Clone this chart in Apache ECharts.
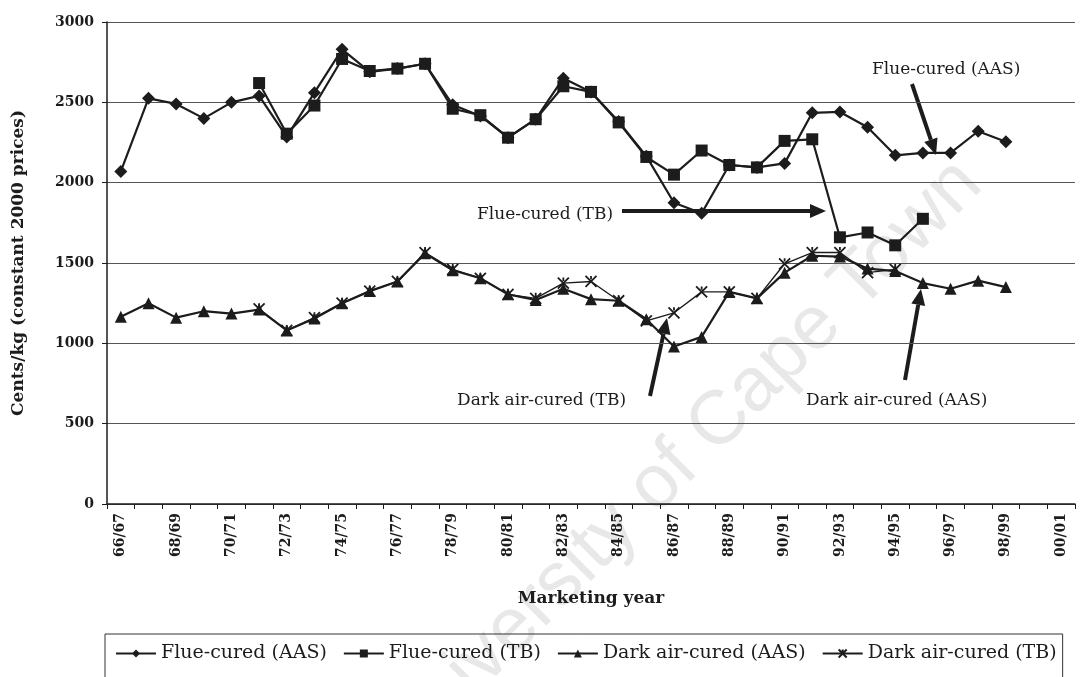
<!DOCTYPE html>
<html>
<head>
<meta charset="utf-8">
<title>Tobacco prices</title>
<script src="https://cdn.jsdelivr.net/npm/echarts@6.0.0/dist/echarts.min.js"></script>
<style>
  html, body { margin: 0; padding: 0; background: #fff; }
  #main { width: 1081px; height: 677px; }
</style>
</head>
<body>
<div id="main"></div>
<script>
// marketing years on the x axis
var years = ['66/67','67/68','68/69','69/70','70/71','71/72','72/73','73/74','74/75','75/76',
  '76/77','77/78','78/79','79/80','80/81','81/82','82/83','83/84','84/85','85/86',
  '86/87','87/88','88/89','89/90','90/91','91/92','92/93','93/94','94/95','95/96',
  '96/97','97/98','98/99','99/00','00/01'];

// cents/kg, constant 2000 prices
var flueAAS = [2070,2525,2490,2400,2500,2540,2285,2560,2830,2690,
  2710,2740,2485,2415,2280,2395,2650,2565,2380,2165,
  1875,1810,2110,2095,2120,2435,2440,2345,2170,2185,
  2185,2320,2255,null,null];
var flueTB = [null,null,null,null,null,2620,2305,2480,2770,2695,
  2710,2740,2460,2420,2280,2395,2600,2565,2375,2160,
  2050,2200,2110,2095,2260,2270,1660,1690,1610,1775,
  null,null,null,null,null];
var darkAAS = [1165,1250,1160,1200,1185,1210,1080,1155,1250,1325,
  1385,1560,1455,1405,1305,1270,1340,1275,1265,1150,
  980,1040,1320,1280,1440,1545,1540,1465,1450,1375,
  1340,1390,1350,null,null];
var darkTB = [null,null,null,null,null,1215,1080,1160,1250,1325,
  1385,1565,1460,1405,1305,1280,1375,1385,1265,1140,
  1190,1320,1320,1280,1495,1565,1565,1440,1460,null,
  null,null,null,null,null];

var seriesNames = ['Flue-cured (AAS)','Flue-cured (TB)','Dark air-cured (AAS)','Dark air-cured (TB)'];

var serif = '"DejaVu Serif", "Liberation Serif", serif';
var ink = '#1c1c1c';
var xMark = 'path://M0,0 L10,10 M10,0 L0,10 M5,0 L5,3';

// arrow drawn as a thick line with a filled head
function arrow(x1, y1, x2, y2, w) {
    var a = Math.atan2(y2 - y1, x2 - x1);
    var len = 16, half = 7;
    var bx = x2 - len * Math.cos(a), by = y2 - len * Math.sin(a);
    return {
        type: 'group', z: 50,
        children: [
            { type: 'line', shape: { x1: x1, y1: y1, x2: bx, y2: by },
              style: { stroke: ink, lineWidth: w } },
            { type: 'polygon', shape: { points: [
                [x2, y2],
                [bx + half * Math.sin(a), by - half * Math.cos(a)],
                [bx - half * Math.sin(a), by + half * Math.cos(a)]
              ] }, style: { fill: ink } }
        ]
    };
}

function note(text, x, y) {
    return { type: 'text', left: x, top: y, z: 50,
        style: { text: text, fill: ink, font: '17px ' + serif } };
}

function createChart() {
    var myChart = echarts.init(document.getElementById('main'));

    var option = {
        backgroundColor: '#fff',
        animation: false,
        grid: { left: 107, right: 6, top: 22, bottom: 173 },
        legend: {
            data: seriesNames,
            left: 105, top: 634,
            padding: [10, 6, 30, 10],
            itemGap: 16,
            itemWidth: 40, itemHeight: 10,
            borderColor: '#333', borderWidth: 1,
            textStyle: { fontFamily: serif, fontSize: 19, color: ink }
        },
        xAxis: {
            type: 'category',
            data: years,
            boundaryGap: true,
            name: 'Marketing year',
            nameLocation: 'middle',
            nameGap: 86,
            nameTextStyle: { fontFamily: serif, fontWeight: 'bold', fontSize: 17, color: ink },
            axisLine: { lineStyle: { color: ink, width: 1.5 } },
            axisTick: { show: true, alignWithLabel: false, interval: 0, length: 5, lineStyle: { color: ink } },
            axisLabel: { interval: 1, rotate: 90, margin: 9, fontFamily: serif, fontWeight: 'bold', fontSize: 14, color: ink },
            splitLine: { show: false }
        },
        yAxis: {
            type: 'value',
            min: 0, max: 3000, interval: 500,
            name: 'Cents/kg (constant 2000 prices)',
            nameLocation: 'middle',
            nameGap: 80,
            nameTextStyle: { fontFamily: serif, fontWeight: 'bold', fontSize: 17, color: ink },
            axisLine: { show: true, lineStyle: { color: ink, width: 1.5 } },
            axisTick: { show: true, length: 5, lineStyle: { color: ink } },
            axisLabel: { margin: 13, fontFamily: serif, fontWeight: 'bold', fontSize: 14, color: ink,
                         formatter: function (v) { return String(v); } },
            splitLine: { show: true, lineStyle: { color: '#555', width: 1 } }
        },
        series: [
            { name: seriesNames[0], type: 'line', data: flueAAS, symbol: 'diamond', symbolSize: 13,
              lineStyle: { color: ink, width: 2.2 }, itemStyle: { color: ink }, z: 4 },
            { name: seriesNames[1], type: 'line', data: flueTB, symbol: 'rect', symbolSize: 12,
              lineStyle: { color: ink, width: 2.2 }, itemStyle: { color: ink }, z: 3 },
            { name: seriesNames[2], type: 'line', data: darkAAS, symbol: 'triangle', symbolSize: 12,
              lineStyle: { color: ink, width: 2.2 }, itemStyle: { color: ink }, z: 3 },
            { name: seriesNames[3], type: 'line', data: darkTB, symbol: xMark, symbolSize: 11,
              lineStyle: { color: ink, width: 1.4 },
              itemStyle: { color: ink, borderColor: ink, borderWidth: 1.8 }, z: 4 }
        ],
        graphic: [
            { type: 'text', x: 680, y: 462, rotation: Math.PI / 4, z: 0, silent: true,
              style: { text: 'University of Cape Town', fill: '#e8e8e8',
                       font: '76px "Liberation Sans", Arial, sans-serif', align: 'center', verticalAlign: 'middle' } },
            note('Flue-cured (AAS)', 872, 61),
            arrow(912, 84, 936, 155, 4),
            note('Flue-cured (TB)', 477, 206),
            arrow(622, 211, 826, 211, 4),
            note('Dark air-cured (TB)', 457, 392),
            arrow(650, 396, 667, 318, 4),
            note('Dark air-cured (AAS)', 806, 392),
            arrow(905, 380, 921, 289, 4)
        ]
    };

    myChart.setOption(option);
}

createChart();
</script>
</body>
</html>
